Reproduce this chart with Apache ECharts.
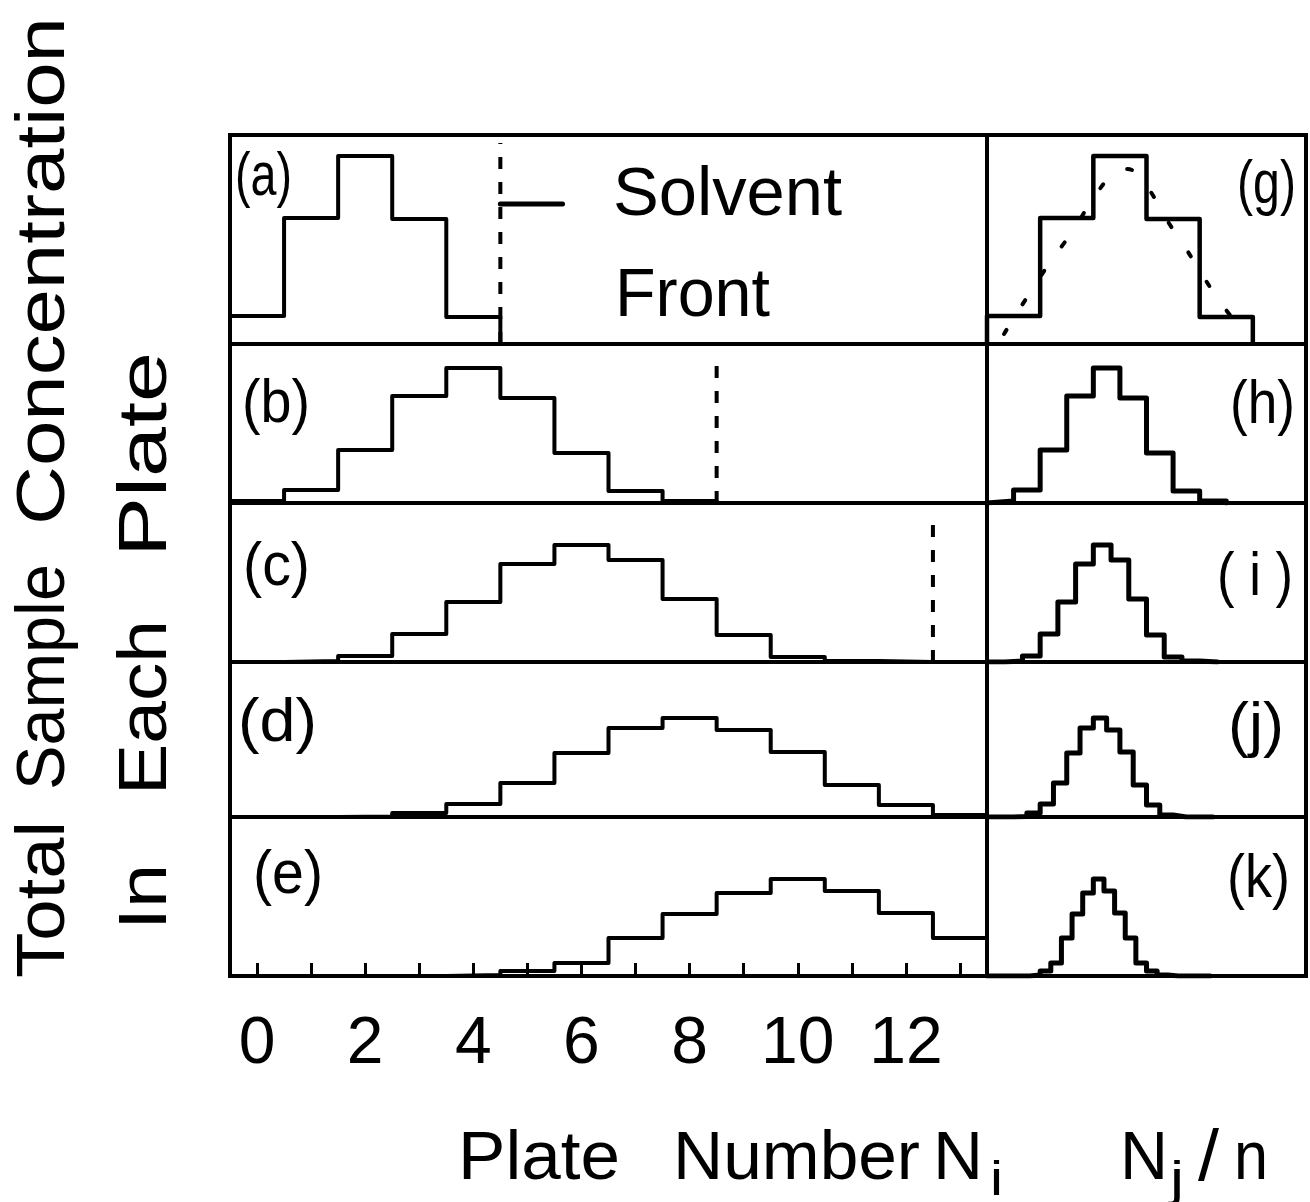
<!DOCTYPE html>
<html><head><meta charset="utf-8">
<script src="https://cdn.jsdelivr.net/npm/echarts@6/dist/echarts.min.js"></script>
<style>html,body{margin:0;padding:0;background:#fff}#c{width:1310px;height:1202px}</style>
</head><body><div id="c"></div>
<script>
// ---------------- data ----------------
// concentration in each plate (percent of total sample), index = plate number
const concA = [5.6, 25.2, 37.6, 25.0, 5.4];
const concB = [0.4, 2.6, 10.6, 21.4, 27.0, 21.0, 10.0, 2.4, 0.4];
const concC = [0.0, 0.2, 1.2, 5.6, 12.0, 19.6, 23.4, 20.4, 12.6, 5.4, 1.0, 0.2, 0.0];
const concD = [0.0, 0.0, 0.1, 0.8, 2.6, 6.8, 12.8, 17.8, 19.8, 17.4, 13.0, 6.4, 2.4, 0.4, 0.0, 0.0, 0.0];
const concE = [0.0, 0.0, 0.0, 0.0, 0.2, 1.0, 2.6, 7.6, 12.4, 16.6, 19.4, 17.0, 12.6, 7.6, 2.6, 1.0, 0.2, 0.0, 0.0, 0.0, 0.0];
const transfers = [4, 8, 12, 16, 20];            // n for each row
const solventFront = [4.5, 8.5, 12.5];           // plate position of solvent front, rows a-c
const solventFrontTop = [40.2, 30.0, 29.8];      // top of dashed front line
const solventPointerEnd = 5.65;                  // end of pointer dash from "Solvent Front"
const solventPointerLevel = 28;
// dotted smooth curve drawn in panel (g)
const curveGx = [0.08, 0.18, 0.31, 0.38, 0.57, 0.64, 0.71, 0.87, 0.93, 1.10, 1.20];
const curveGy = [2.0, 8.8, 17.2, 21.2, 33.2, 35.0, 33.8, 23.2, 19.4, 8.2, 3.0];
const xTickValues = [0, 1, 2, 3, 4, 5, 6, 7, 8, 9, 10, 11, 12, 13];
const xTickLabels = [0, 2, 4, 6, 8, 10, 12];
const leftPanelLabels = ['(a)', '(b)', '(c)', '(d)', '(e)'];
const rightPanelLabels = ['(g)', '(h)', '( i )', '(j)', '(k)'];

// ---------------- layout ----------------
const rowTop = [135, 344, 503, 662, 817];
const rowH = [209, 159, 159, 155, 159];
const PX_PER_UNIT = 5;
const FONT = '"Liberation Sans", Arial, sans-serif';
const leftData = [concA, concB, concC, concD, concE];

const mctx = document.createElement('canvas').getContext('2d');
function textW(t, size) { mctx.font = size + 'px ' + FONT; return mctx.measureText(t).width; }
function fitText(t, x, y, size, targetW, rot) {
  const s = targetW / textW(t, size);
  return {
    type: 'text', x: x, y: y, rotation: rot || 0, scaleX: s, scaleY: 1, silent: true,
    style: { text: t, x: 0, y: 0, fontSize: size, fontFamily: FONT, fill: '#000', align: 'left', verticalAlign: 'middle' }
  };
}

function leftSteps(vals) {
  const pts = [];
  vals.forEach((v, k) => { pts.push([k - 0.5, v], [k + 0.5, v]); });
  pts.push([vals.length - 0.5, 0]);
  return pts;
}
function rightSteps(vals, n) {
  const pts = [[0, 0]];
  vals.forEach((v, k) => { pts.push([k / n, v], [(k + 1) / n, v]); });
  pts.push([vals.length / n, 0]);
  return pts;
}

const grid = [], xAxis = [], yAxis = [], series = [];
for (let i = 0; i < 5; i++) {
  grid.push({ left: 230, top: rowTop[i], width: 757, height: rowH[i], show: true, borderColor: '#000', borderWidth: 4, backgroundColor: 'transparent' });
  grid.push({ left: 987, top: rowTop[i], width: 319, height: rowH[i], show: true, borderColor: '#000', borderWidth: 4, backgroundColor: 'transparent' });
  if (i === 4) {
    xAxis.push({
      gridIndex: 2 * i, type: 'value', min: -0.5, max: 13.5, position: 'bottom',
      axisLine: { show: false }, splitLine: { show: false },
      axisTick: { show: true, inside: true, length: 13, lineStyle: { color: '#000', width: 3 }, customValues: xTickValues },
      axisLabel: { show: true, customValues: xTickLabels, color: '#000', fontSize: 66, fontFamily: FONT, margin: 36 }
    });
  } else {
    xAxis.push({ gridIndex: 2 * i, type: 'value', min: -0.5, max: 13.5, show: false });
  }
  xAxis.push({ gridIndex: 2 * i + 1, type: 'value', min: 0, max: 1.5, show: false });
  yAxis.push({ gridIndex: 2 * i, type: 'value', min: 0, max: rowH[i] / PX_PER_UNIT, show: false });
  yAxis.push({ gridIndex: 2 * i + 1, type: 'value', min: 0, max: rowH[i] / PX_PER_UNIT, show: false });

  series.push({
    type: 'line', xAxisIndex: 2 * i, yAxisIndex: 2 * i, data: leftSteps(leftData[i]),
    symbol: 'none', silent: true, animation: false,
    lineStyle: { color: '#000', width: 4, join: 'round', cap: 'round' }
  });
  series.push({
    type: 'line', xAxisIndex: 2 * i + 1, yAxisIndex: 2 * i + 1, data: rightSteps(leftData[i], transfers[i]),
    symbol: 'none', silent: true, animation: false,
    lineStyle: { color: '#000', width: i === 0 ? 4.5 : 5, join: 'round', cap: 'round' }
  });
  if (i < 3) {
    series.push({
      type: 'line', xAxisIndex: 2 * i, yAxisIndex: 2 * i,
      data: [[solventFront[i], 0], [solventFront[i], solventFrontTop[i]]],
      symbol: 'none', silent: true, animation: false,
      lineStyle: { color: '#000', width: 4, type: [12, 13] }
    });
  }
}
// pointer dash from label to the solvent front (panel a)
series.push({
  type: 'line', xAxisIndex: 0, yAxisIndex: 0,
  data: [[solventFront[0], solventPointerLevel], [solventPointerEnd, solventPointerLevel]],
  symbol: 'none', silent: true, animation: false, lineStyle: { color: '#000', width: 5, cap: 'round' }
});
// dotted curve in panel (g)
series.push({
  type: 'line', xAxisIndex: 1, yAxisIndex: 1, smooth: true,
  data: curveGx.map((x, k) => [x, curveGy[k]]),
  symbol: 'none', silent: true, animation: false,
  lineStyle: { color: '#000', width: 4, type: [5, 30], cap: 'round' }
});

// ---------------- texts ----------------
const graphic = [];
const leftLabelBox = [[235, 292, 178], [242, 310, 405], [243, 310, 568], [238, 317, 724], [253, 323, 876]];
const rightLabelBox = [[1237, 1296, 186], [1230, 1295, 406], [1217, 1293, 578], [1228, 1284, 728], [1227, 1290, 880]];
leftPanelLabels.forEach((t, i) => { const b = leftLabelBox[i]; graphic.push(fitText(t, b[0], b[2], 62, b[1] - b[0])); });
rightPanelLabels.forEach((t, i) => { const b = rightLabelBox[i]; graphic.push(fitText(t, b[0], b[2], 62, b[1] - b[0])); });

graphic.push(fitText('Solvent', 613, 196, 68, 229));
graphic.push(fitText('Front', 615, 297, 68, 155));

graphic.push(fitText('Plate', 458, 1160, 68, 162));
graphic.push(fitText('Number', 673, 1160, 68, 247));
graphic.push(fitText('N', 933, 1160, 68, 50));
graphic.push(fitText('i', 990, 1182, 48, 13));
graphic.push(fitText('N', 1120, 1160, 68, 48));
graphic.push(fitText('j', 1170, 1182, 48, 14));
graphic.push(fitText('/', 1198, 1160, 72, 21));
graphic.push(fitText('n', 1234, 1160, 68, 34));

const R = Math.PI / 2;
graphic.push(fitText('Total', 45, 978, 68, 157, R));
graphic.push(fitText('Sample', 45, 790, 68, 226, R));
graphic.push(fitText('Concentration', 45, 525, 68, 508, R));
graphic.push(fitText('In', 147, 930, 68, 66, R));
graphic.push(fitText('Each', 147, 795, 68, 175, R));
graphic.push(fitText('Plate', 147, 557, 68, 205, R));

const chart = echarts.init(document.getElementById('c'), null, { renderer: 'canvas', width: 1310, height: 1202 });
chart.setOption({
  backgroundColor: '#fff',
  animation: false,
  grid: grid, xAxis: xAxis, yAxis: yAxis, series: series, graphic: graphic
});
</script></body></html>
